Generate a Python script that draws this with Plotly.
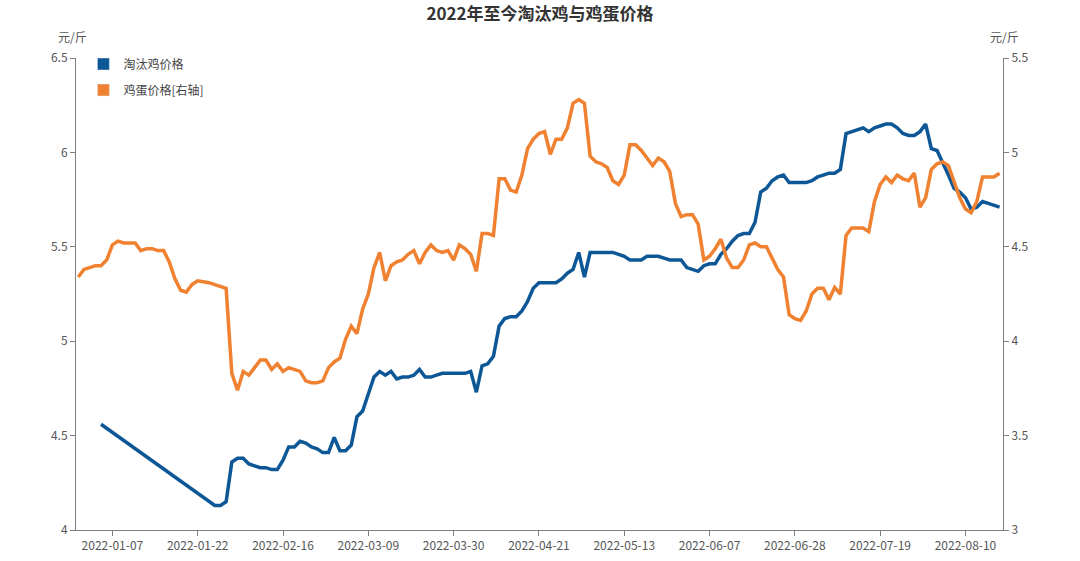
import plotly.graph_objects as go

# trading-day positions, ticks every 15 sessions
TICK_POS = [6, 21, 36, 51, 66, 81, 96, 111, 126, 141, 156]
TICK_LABELS = [
    "2022-01-07", "2022-01-22", "2022-02-16", "2022-03-09", "2022-03-30",
    "2022-04-21", "2022-05-13", "2022-06-07", "2022-06-28", "2022-07-19",
    "2022-08-10",
]

# 淘汰鸡价格 (left axis) - gap in early January
hen_price = [
    None, None, None, None, 4.56, None, None, None, None, None,
    None, None, None, None, None, None, None, None, None, None,
    None, None, None, None, 4.13, 4.13, 4.15, 4.36, 4.38, 4.38,
    4.35, 4.34, 4.33, 4.33, 4.32, 4.32, 4.37, 4.44, 4.44, 4.47,
    4.46, 4.44, 4.43, 4.41, 4.41, 4.49, 4.42, 4.42, 4.45, 4.60,
    4.63, 4.72, 4.81, 4.84, 4.82, 4.84, 4.80, 4.81, 4.81, 4.82,
    4.85, 4.81, 4.81, 4.82, 4.83, 4.83, 4.83, 4.83, 4.83, 4.84,
    4.73, 4.87, 4.88, 4.92, 5.08, 5.12, 5.13, 5.13, 5.16, 5.21,
    5.28, 5.31, 5.31, 5.31, 5.31, 5.33, 5.36, 5.38, 5.47, 5.34,
    5.47, 5.47, 5.47, 5.47, 5.47, 5.46, 5.45, 5.43, 5.43, 5.43,
    5.45, 5.45, 5.45, 5.44, 5.43, 5.43, 5.43, 5.39, 5.38, 5.37,
    5.40, 5.41, 5.41, 5.46, 5.49, 5.53, 5.56, 5.57, 5.57, 5.63,
    5.79, 5.81, 5.85, 5.87, 5.88, 5.84, 5.84, 5.84, 5.84, 5.85,
    5.87, 5.88, 5.89, 5.89, 5.91, 6.10, 6.11, 6.12, 6.13, 6.11,
    6.13, 6.14, 6.15, 6.15, 6.13, 6.10, 6.09, 6.09, 6.11, 6.15,
    6.02, 6.01, 5.95, 5.88, 5.81, 5.79, 5.76, 5.70, 5.71, 5.74,
    5.73, 5.72, 5.71,
]

# 鸡蛋价格 (right axis)
egg_price = [
    4.34, 4.38, 4.39, 4.40, 4.40, 4.43, 4.51, 4.53, 4.52, 4.52,
    4.52, 4.48, 4.49, 4.49, 4.48, 4.48, 4.42, 4.33, 4.27, 4.26,
    4.30, 4.32, 4.315, 4.31, 4.30, 4.29, 4.28, 3.83, 3.74, 3.84,
    3.82, 3.86, 3.90, 3.90, 3.85, 3.88, 3.84, 3.86, 3.85, 3.84,
    3.79, 3.78, 3.78, 3.79, 3.86, 3.89, 3.91, 4.01, 4.08, 4.04,
    4.17, 4.25, 4.39, 4.47, 4.32, 4.40, 4.42, 4.43, 4.46, 4.48,
    4.41, 4.47, 4.51, 4.48, 4.47, 4.48, 4.43, 4.51, 4.49, 4.46,
    4.37, 4.57, 4.57, 4.56, 4.86, 4.86, 4.80, 4.79, 4.88, 5.02,
    5.07, 5.10, 5.11, 4.99, 5.07, 5.07, 5.13, 5.26, 5.28, 5.26,
    4.98, 4.95, 4.94, 4.92, 4.85, 4.83, 4.88, 5.04, 5.04, 5.01,
    4.97, 4.93, 4.97, 4.95, 4.90, 4.73, 4.66, 4.67, 4.67, 4.62,
    4.43, 4.45, 4.49, 4.54, 4.44, 4.39, 4.39, 4.43, 4.51, 4.52,
    4.50, 4.50, 4.44, 4.38, 4.34, 4.14, 4.12, 4.11, 4.16, 4.25,
    4.28, 4.28, 4.22, 4.285, 4.25, 4.56, 4.60, 4.60, 4.60, 4.58,
    4.74, 4.83, 4.87, 4.84, 4.88, 4.86, 4.85, 4.89, 4.71, 4.76,
    4.91, 4.94, 4.95, 4.93, 4.85, 4.76, 4.70, 4.68, 4.74, 4.87,
    4.87, 4.87, 4.89,
]

BLUE = "#0D5796"
ORANGE = "#EF8131"
FONT = "Noto Sans CJK SC"
AXIS_GREY = "#7f7f7f"

x = list(range(len(egg_price)))

fig = go.Figure()

fig.add_trace(go.Scatter(
    x=x, y=hen_price, mode="lines", name="淘汰鸡价格", connectgaps=True,
    line=dict(color=BLUE, width=3.5), showlegend=False, yaxis="y",
))
fig.add_trace(go.Scatter(
    x=x, y=egg_price, mode="lines", name="鸡蛋价格[右轴]",
    line=dict(color=ORANGE, width=3.5), showlegend=False, yaxis="y2",
))

# legend swatches (filled boxes like the original)
fig.add_trace(go.Bar(x=[None], y=[None], name="淘汰鸡价格", marker_color=BLUE,
                     legendgroup="a"))
fig.add_trace(go.Bar(x=[None], y=[None], name="鸡蛋价格[右轴]", marker_color=ORANGE,
                     legendgroup="b"))

axis_common = dict(
    showline=True, linecolor=AXIS_GREY, linewidth=1, showgrid=False,
    zeroline=False, ticks="outside", ticklen=5, tickcolor=AXIS_GREY,
    automargin=False,
    tickfont=dict(family=FONT, size=12, color="#555555"),
)

fig.update_layout(
    width=1080, height=561,
    plot_bgcolor="white", paper_bgcolor="white",
    margin=dict(l=76, r=77, t=58, b=31),
    font=dict(family=FONT, color="#444444"),
    title=dict(text="<b>2022年至今淘汰鸡与鸡蛋价格</b>", x=0.5, xanchor="center",
               y=0.975, yanchor="middle", yref="container",
               font=dict(family=FONT, size=17, color="#333333")),
    xaxis=dict(
        range=[-0.4, 162.6], tickvals=TICK_POS, ticktext=TICK_LABELS,
        **axis_common,
    ),
    yaxis=dict(range=[4, 6.5], dtick=0.5, **axis_common),
    yaxis2=dict(range=[3, 5.5], dtick=0.5, overlaying="y", side="right",
                **axis_common),
    legend=dict(x=0.008, y=1.018, xanchor="left", yanchor="top",
                bgcolor="rgba(0,0,0,0)", tracegroupgap=7,
                font=dict(family=FONT, size=12, color="#444444")),
    barmode="overlay",
    annotations=[
        dict(text="元/斤", xref="paper", yref="paper", x=0, y=1,
             xanchor="right", yanchor="bottom", yshift=11, xshift=13,
             showarrow=False, font=dict(family=FONT, size=12, color="#555555")),
        dict(text="元/斤", xref="paper", yref="paper", x=1, y=1,
             xanchor="left", yanchor="bottom", yshift=11, xshift=-15,
             showarrow=False, font=dict(family=FONT, size=12, color="#555555")),
    ],
)

# drop the page's default body margin so the figure sits at the window origin
fig.write_html("out.html", config={"displayModeBar": False},
               post_script="document.body.style.margin='0';")
